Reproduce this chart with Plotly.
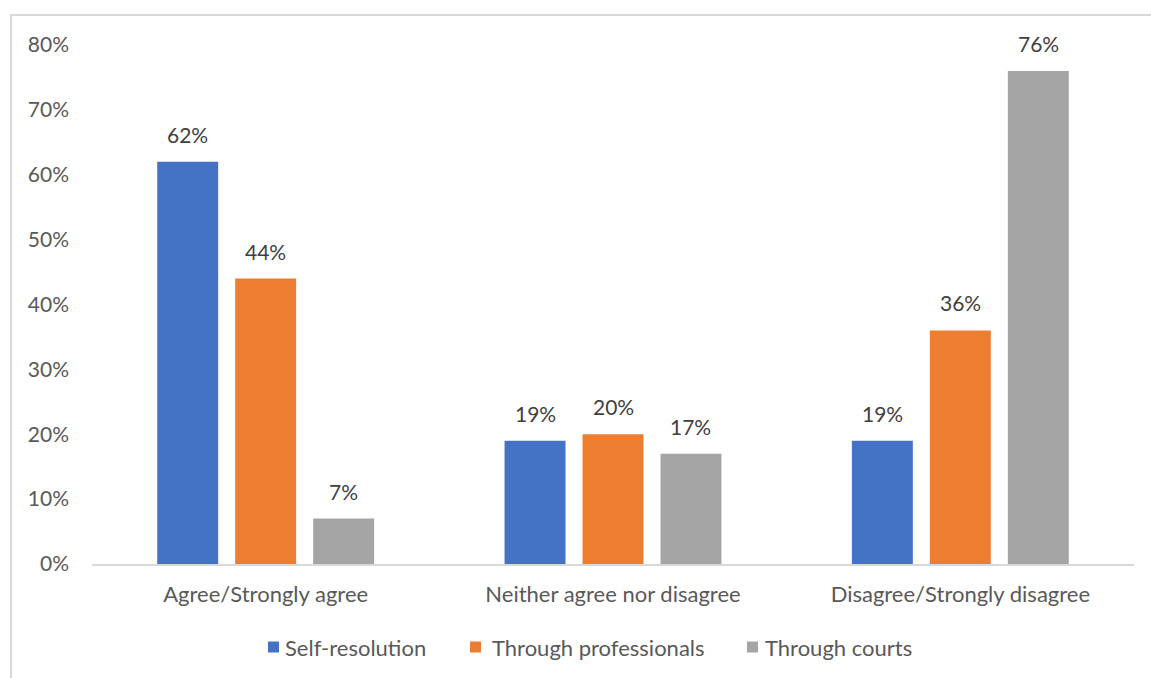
import plotly.graph_objects as go

categories = ["Agree/Strongly agree", "Neither agree nor disagree", "Disagree/Strongly disagree"]
self_resolution = [62, 19, 19]
through_professionals = [44, 20, 36]
through_courts = [7, 17, 76]
y_ticks = [0, 10, 20, 30, 40, 50, 60, 70, 80]

series = [
    ("Self-resolution", self_resolution, "#4472C4"),
    ("Through professionals", through_professionals, "#ED7D31"),
    ("Through courts", through_courts, "#A5A5A5"),
]

FONT = "Lato"
SIZE = 22
TEXT = "#595959"

# plot-area geometry (pixels)
W, H = 1151, 678
L, R, T, B = 92, 17, 45, 114
PW, PH = W - L - R, H - T - B

SLOT = 0.2245       # distance between bar centres within a group (category units)
BAR_W = 0.1755      # bar width (category units)

def px_x(px):
    return (px - L) / PW

def px_y(py):
    return (H - B - py) / PH

fig = go.Figure()
annotations = []
for k, (name, vals, color) in enumerate(series):
    xs = [i + (k - 1) * SLOT for i in range(len(categories))]
    fig.add_trace(go.Bar(
        x=xs, y=vals, name=name, width=BAR_W,
        marker=dict(color=color, line=dict(width=0)),
        showlegend=False,
    ))
    for x, v in zip(xs, vals):
        annotations.append(dict(
            x=x, y=v, xref="x", yref="y", text=f"{v}%", showarrow=False,
            yanchor="bottom", yshift=13,
            font=dict(family=FONT, size=SIZE - 1, color="#404040"),
        ))

# legend drawn as coloured squares with labels
legend_items = [(268, 283), (470, 490), (747, 763)]
shapes = [dict(type="rect", xref="paper", yref="paper",
               x0=px_x(11), x1=1.2, y0=-0.5, y1=px_y(15),
               line=dict(color="#D9D9D9", width=2), fillcolor="rgba(0,0,0,0)", layer="below")]
LEG_Y = 647
for (sq_x, tx_x), (name, _, color) in zip(legend_items, series):
    shapes.append(dict(type="rect", xref="paper", yref="paper",
                       x0=px_x(sq_x), x1=px_x(sq_x + 11),
                       y0=px_y(LEG_Y + 5.5), y1=px_y(LEG_Y - 5.5),
                       line=dict(width=0), fillcolor=color))
    annotations.append(dict(
        x=px_x(tx_x), y=px_y(LEG_Y), xref="paper", yref="paper", text=name,
        showarrow=False, xanchor="left", yanchor="middle",
        font=dict(family=FONT, size=SIZE, color=TEXT),
    ))

fig.update_layout(
    width=W, height=H,
    margin=dict(l=L, r=R, t=T, b=B),
    paper_bgcolor="white", plot_bgcolor="white",
    barmode="overlay",
    font=dict(family=FONT, size=SIZE, color=TEXT),
    showlegend=False,
    xaxis=dict(range=[-0.5, 2.5], tickvals=list(range(len(categories))), ticktext=categories,
               showgrid=False, zeroline=False, showline=True, linecolor="#D9D9D9", linewidth=1.5,
               ticks="", ticklabelstandoff=10,
               tickfont=dict(family=FONT, size=SIZE, color=TEXT)),
    yaxis=dict(range=[0, 80], tickvals=y_ticks, ticktext=[f"{t}%" for t in y_ticks],
               showgrid=False, zeroline=False, showline=False, ticks="",
               ticklabelstandoff=22,
               tickfont=dict(family=FONT, size=SIZE - 1, color=TEXT)),
    shapes=shapes,
    annotations=annotations,
)

fig.write_html("out.html")
